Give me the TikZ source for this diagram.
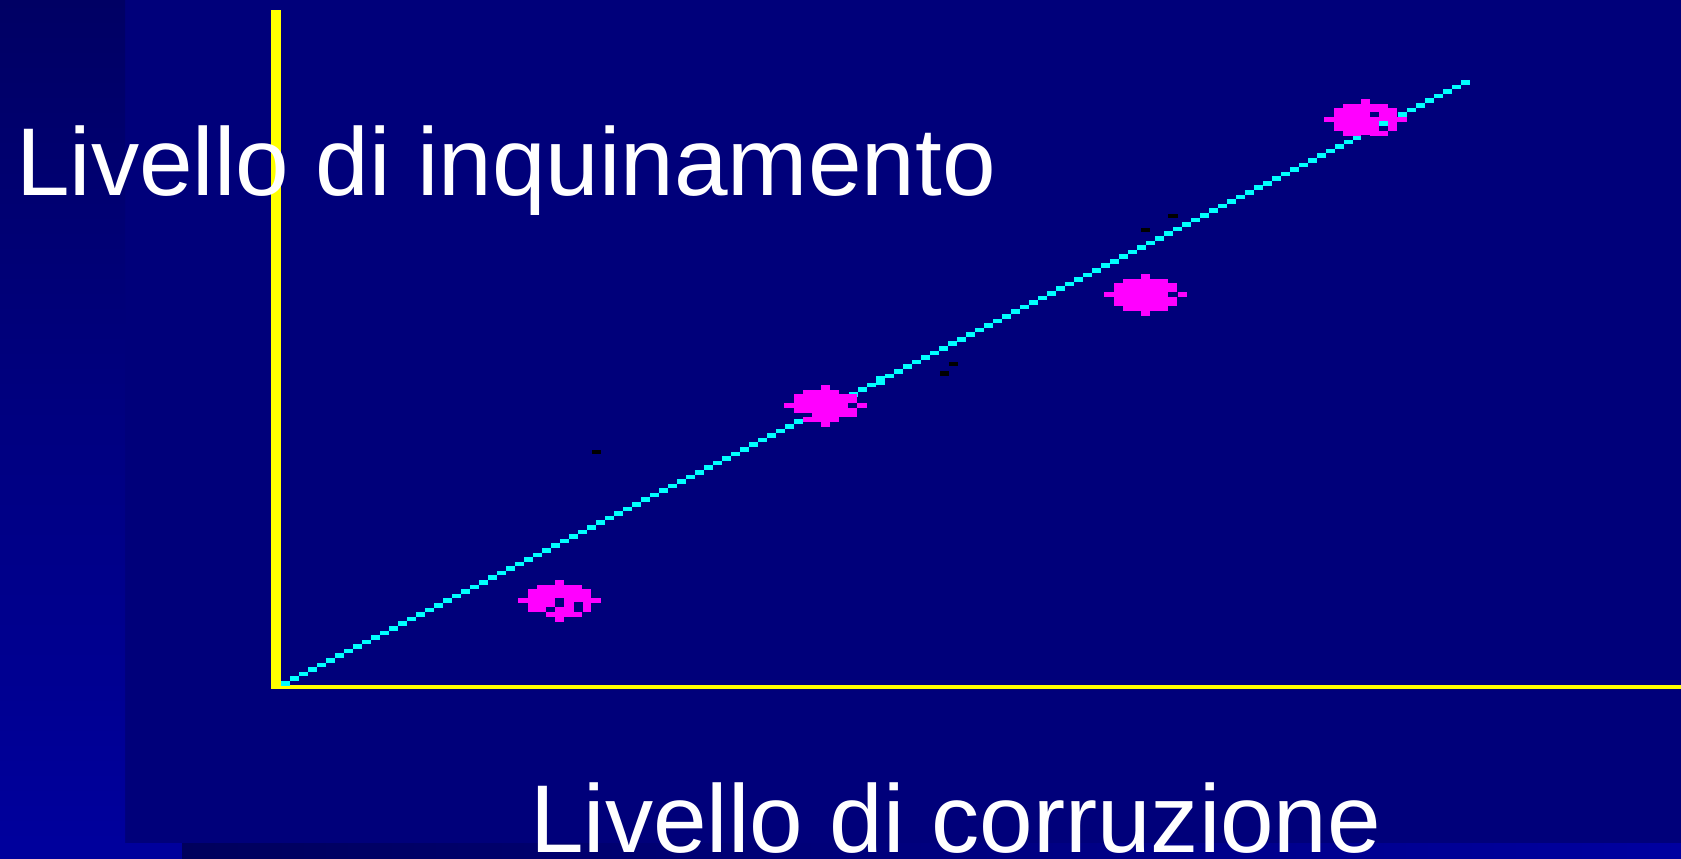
\documentclass[tikz,border=0pt]{standalone}
\usepackage{fontspec}
\setmainfont{Liberation Sans}
\definecolor{mainbg}{RGB}{0,0,122}
\definecolor{striptop}{RGB}{0,0,100}
\definecolor{stripbot}{RGB}{0,0,156}
\definecolor{bandl}{RGB}{0,0,92}
\definecolor{bandr}{RGB}{0,0,160}
\definecolor{axisc}{RGB}{255,255,0}
\definecolor{linec}{RGB}{0,255,255}
\definecolor{blobc}{RGB}{255,0,255}
\tikzset{
  blob/.pic={
    \fill[blobc] (-4.5,-20.5) rectangle (4.5,-15.5);
    \fill[blobc] (-22.5,-15.5) rectangle (22.5,-11.5);
    \fill[blobc] (-31.5,-11.5) rectangle (31.5,-2.5);
    \fill[blobc] (-41.5,-2.5) rectangle (41.5,2.5);
    \fill[blobc] (-31.5,2.5) rectangle (31.5,11.5);
    \fill[blobc] (-22.5,11.5) rectangle (22.5,16.5);
    \fill[blobc] (-4.5,16.5) rectangle (4.5,21.5);
  },
  hole/.style={fill=mainbg},
  label/.style={text=white, inner sep=0pt, anchor=base west, font=\fontsize{96.3}{96.3}\selectfont}
}
\begin{document}
\begin{tikzpicture}[x=1pt,y=-1pt]
\useasboundingbox (0,0) rectangle (1681,859);
% background
\fill[mainbg] (0,0) rectangle (1681,859);
\shade[top color=striptop, bottom color=stripbot] (0,0) rectangle (125,843);
\fill[stripbot] (0,843) rectangle (182,859);
\shade[left color=bandl, right color=bandr] (182,843) rectangle (1681,859);
% axes
\fill[axisc] (271,10) rectangle (280.5,689);
\fill[axisc] (271,685) rectangle (1681,689);
% stepped regression line
\foreach \i in {0,...,131} {
  \fill[linec] ({281+9.008*\i},{681-4.588*\i}) rectangle ++(9,4.6);
}
\fill[linec] ({281+9.008*66},{681-4.588*66-2}) rectangle ++(9,9);
% blobs
\pic at (559.5,600) {blob};
\fill[hole] (555,598) rectangle (564,607);
\fill[hole] (574,602) rectangle (583,612);
\fill[hole] (546,607) rectangle (555,612);
\fill[hole] (537,612) rectangle (546,616.5);
\pic at (825.5,405.5) {blob};
\fill[hole] (848,403) rectangle (857,408);
\fill[hole] (839,390) rectangle (848.5,394);
\fill[hole] (793,413) rectangle (812,417);
\fill[hole] (839,417) rectangle (848.5,422);
\pic at (1145.5,294.5) {blob};
\fill[hole] (1168,292) rectangle (1178,297);
\pic at (1365.5,119) {blob};
\fill[hole] (1370,112) rectangle (1379,117);
\fill[hole] (1379,126) rectangle (1388,131);
\fill[hole] (1361,135) rectangle (1370,141);
\fill[linec] (1379,121) rectangle (1388,126);
% stray dark marks
\fill[black] (592,450) rectangle (601,454);
\fill[black] (949,362) rectangle (958,366);
\fill[black] (940,371) rectangle (949,376);
\fill[black] (1168,214) rectangle (1178,218);
\fill[black] (1141,228) rectangle (1150,232);
% labels
\node[label] (ylab) at (16,195) {Livello di inquinamento};
\node[label] (xlab) at (530,852) {Livello di corruzione};
\end{tikzpicture}
\end{document}
